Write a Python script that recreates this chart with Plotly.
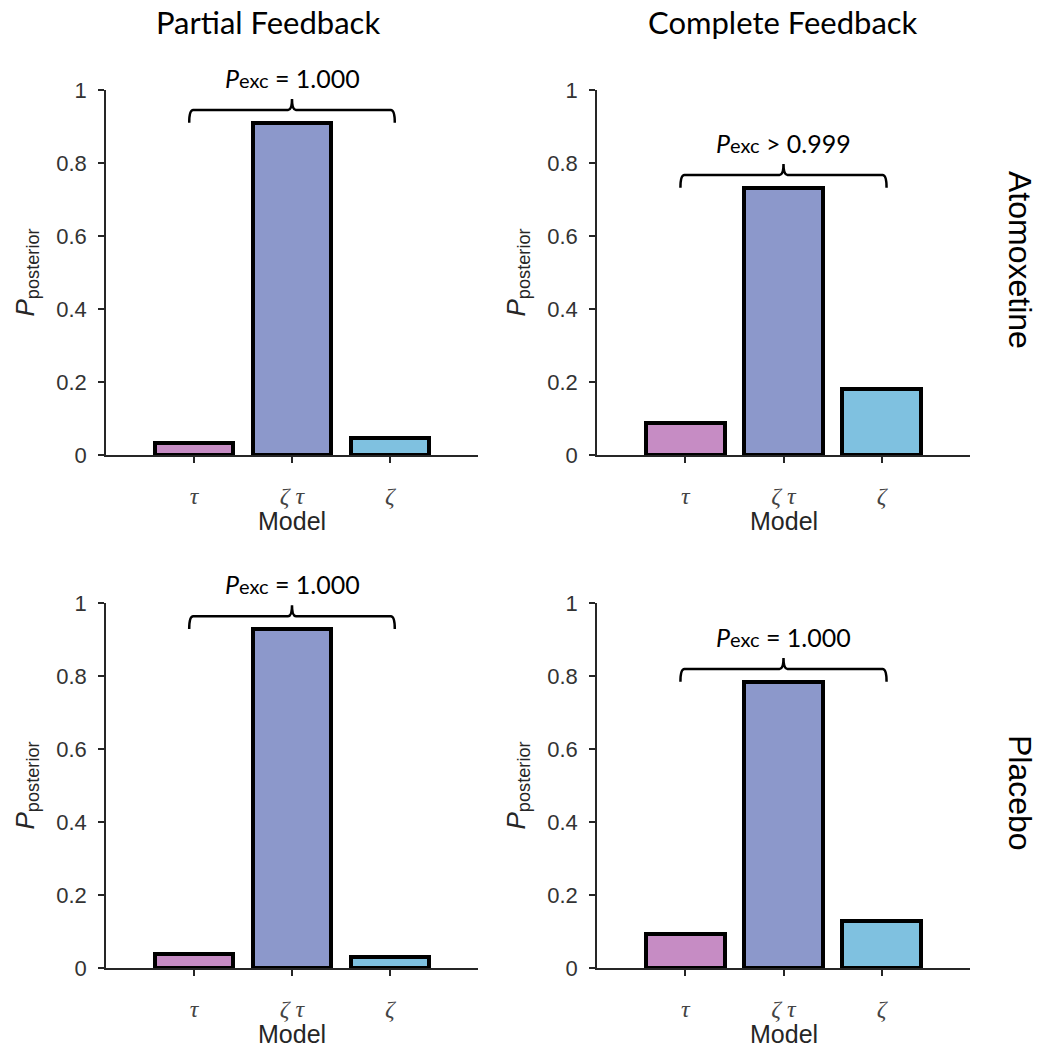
import plotly.graph_objects as go

# ---- data ----
models = ["τ", "ζ τ", "ζ"]
model_labels = ["<i>τ</i>", "<i>ζ τ</i>", "<i>ζ</i>"]
partial_atomoxetine = [0.033, 0.910, 0.047]
complete_atomoxetine = [0.088, 0.732, 0.181]
partial_placebo = [0.038, 0.929, 0.030]
complete_placebo = [0.093, 0.784, 0.130]
pexc_texts = {
    "pa": "= 1.000",
    "ca": "> 0.999",
    "pp": "= 1.000",
    "cp": "= 1.000",
}
bar_colors = ["#C68CC4", "#8C98CB", "#7FC1E0"]
col_titles = ["Partial Feedback", "Complete Feedback"]
row_titles = ["Atomoxetine", "Placebo"]

W, H = 1043, 1051


def px_x(p):
    return p / W


def px_y(p):
    return 1 - p / H


panels = [
    ("pa", partial_atomoxetine, (106, 478), (90, 455)),
    ("ca", complete_atomoxetine, (597, 970), (90, 455)),
    ("pp", partial_placebo, (106, 478), (603, 968)),
    ("cp", complete_placebo, (597, 970), (603, 968)),
]

fig = go.Figure()
axis_color = "#262626"
annotations = []
shapes = []

for i, (key, vals, (xl, xr), (yt, yb)) in enumerate(panels):
    n = i + 1
    xa = "x" if n == 1 else f"x{n}"
    ya = "y" if n == 1 else f"y{n}"
    fig.add_trace(go.Bar(
        x=[0, 1, 2], y=vals, width=0.8,
        marker=dict(color=bar_colors, line=dict(color="black", width=4)),
        xaxis=xa, yaxis=ya, showlegend=False, hoverinfo="skip",
    ))
    xkey = "xaxis" if n == 1 else f"xaxis{n}"
    ykey = "yaxis" if n == 1 else f"yaxis{n}"
    fig.update_layout(**{
        xkey: dict(
            domain=[px_x(xl), px_x(xr)], range=[-0.9, 2.9], anchor=ya,
            tickvals=[0, 1, 2], ticktext=model_labels,
            showline=True, linecolor=axis_color, linewidth=1.5,
            ticks="outside", ticklen=6, tickwidth=1.5, tickcolor=axis_color,
            tickfont=dict(family="Liberation Serif", size=24, color="#444444"),
            ticklabelstandoff=12, automargin=False,
            showgrid=False, zeroline=False, fixedrange=True,
        ),
        ykey: dict(
            domain=[px_y(yb), px_y(yt)], range=[0, 1], anchor=xa,
            tickvals=[0, 0.2, 0.4, 0.6, 0.8, 1],
            ticktext=["0", "0.2", "0.4", "0.6", "0.8", "1"],
            showline=True, linecolor=axis_color, linewidth=1.5,
            ticks="outside", ticklen=6, tickwidth=1.5, tickcolor=axis_color,
            tickfont=dict(family="Liberation Sans", size=22, color="#333333"),
            ticklabelstandoff=7, automargin=False,
            showgrid=False, zeroline=False, fixedrange=True,
        ),
    })

    # brace above bars
    top = max(vals)
    yb_ = top + 0.035
    yend = yb_ - 0.035
    ytip = yb_ + 0.03
    x0, x1, xc = -0.05, 2.05, 1.0
    dx = 0.04
    path = (
        f"M {x0},{yend} Q {x0},{yb_} {x0 + dx},{yb_} "
        f"L {xc - dx},{yb_} Q {xc},{yb_} {xc},{ytip} "
        f"Q {xc},{yb_} {xc + dx},{yb_} "
        f"L {x1 - dx},{yb_} Q {x1},{yb_} {x1},{yend}"
    )
    shapes.append(dict(type="path", path=path, xref=xa, yref=ya,
                       line=dict(color="black", width=2.5)))
    # label position converted from data value to page position
    label_val = yb_ + 0.088
    label_px = yb - label_val * (yb - yt)
    annotations.append(dict(
        x=px_x((xl + xr) / 2), y=px_y(label_px), xref="paper", yref="paper",
        showarrow=False,
        text=("<i>P</i><span style='font-size:20px'>exc</span> " + pexc_texts[key]),
        font=dict(family="Lato", size=25, color="black"),
        xanchor="center", yanchor="middle",
    ))

    # x-axis title
    annotations.append(dict(
        x=px_x((xl + xr) / 2), y=px_y(yb + 66), xref="paper", yref="paper",
        showarrow=False, text="Model",
        font=dict(family="Liberation Sans", size=25, color="#262626"),
        xanchor="center", yanchor="middle",
    ))
    # y-axis title
    annotations.append(dict(
        x=px_x(xl - 80), y=px_y((yt + yb) / 2), xref="paper", yref="paper",
        showarrow=False, text="<i>P</i><sub>posterior</sub>", textangle=-90,
        font=dict(family="Liberation Sans", size=26, color="#262626"),
        xanchor="center", yanchor="middle",
    ))

# column titles
for t, cx in zip(col_titles, [268, 783]):
    annotations.append(dict(
        x=px_x(cx), y=px_y(22), xref="paper", yref="paper", showarrow=False,
        text=t, font=dict(family="Lato", size=31, color="black"),
        xanchor="center", yanchor="middle",
    ))
# row titles
for t, cy in zip(row_titles, [260, 793]):
    annotations.append(dict(
        x=px_x(1020), y=px_y(cy), xref="paper", yref="paper", showarrow=False,
        text=t, textangle=90,
        font=dict(family="Liberation Sans", size=32, color="black"),
        xanchor="center", yanchor="middle",
    ))

fig.update_layout(
    width=W, height=H, margin=dict(l=0, r=0, t=0, b=0, autoexpand=False),
    paper_bgcolor="white", plot_bgcolor="white",
    annotations=annotations, shapes=shapes, bargap=0,
)

fig.write_html("out.html")
